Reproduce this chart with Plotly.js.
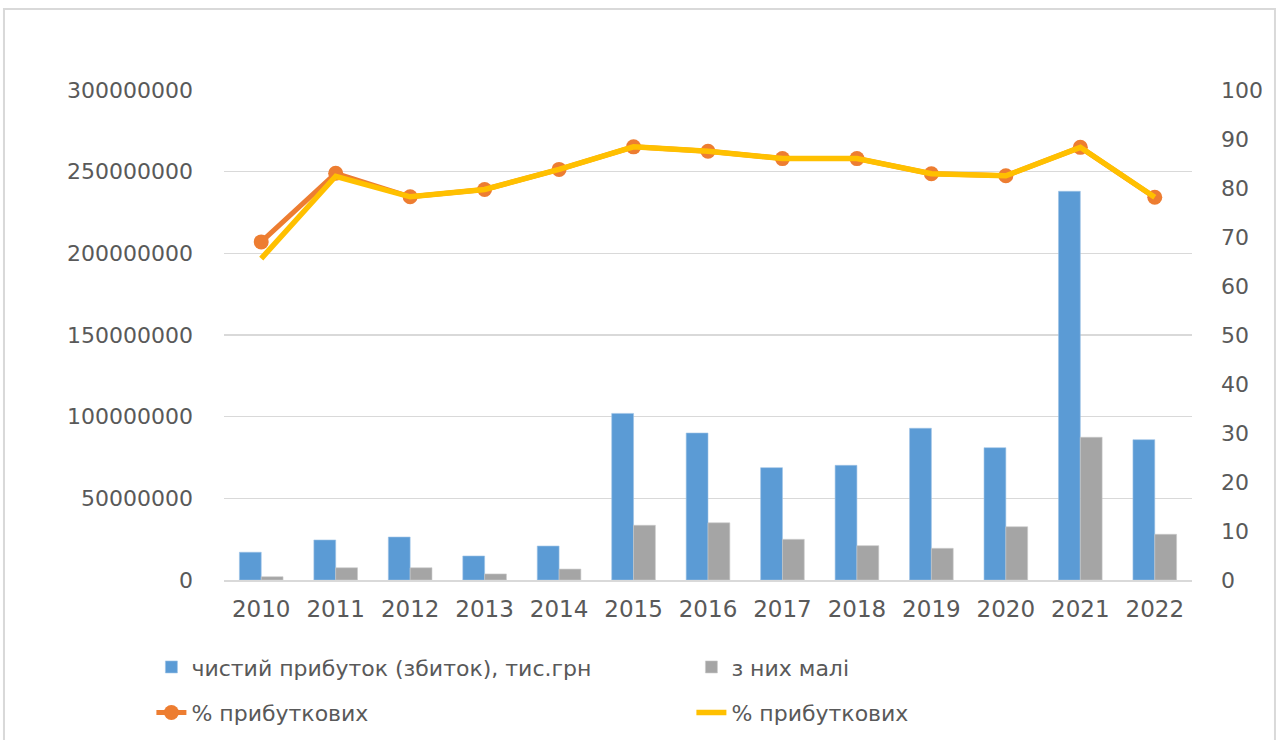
<!DOCTYPE html>
<html>
<head>
<meta charset="utf-8">
<script src="https://cdn.plot.ly/plotly-3.0.1.min.js"></script>
<style>
  html, body { margin: 0; padding: 0; background: #ffffff; }
  #chart { width: 1280px; height: 740px; }
</style>
</head>
<body>
<div id="chart"></div>
<script>
const years = ["2010","2011","2012","2013","2014","2015","2016","2017","2018","2019","2020","2021","2022"];
const netProfit = [17000000, 24500000, 26300000, 14700000, 20800000, 102000000, 90000000, 68800000, 70200000, 92900000, 81000000, 238000000, 85900000];
const smallEnterprises = [2000000, 7500000, 7500000, 3700000, 6700000, 33500000, 35000000, 24900000, 21000000, 19400000, 32600000, 87400000, 28000000];
const pctProfitableA = [69.0, 83.0, 78.2, 79.7, 83.8, 88.4, 87.5, 86.0, 86.0, 82.9, 82.5, 88.3, 78.1];
const pctProfitableB = [65.6, 82.4, 78.2, 79.7, 83.8, 88.4, 87.5, 86.0, 86.0, 82.9, 82.5, 88.3, 78.1];
const seriesNames = ["чистий прибуток (збиток), тис.грн", "з них малі", "% прибуткових", "% прибуткових"];
const leftTicks = [0, 50000000, 100000000, 150000000, 200000000, 250000000, 300000000];
const rightTicks = [0, 10, 20, 30, 40, 50, 60, 70, 80, 90, 100];

const FONT = "DejaVu Sans, Verdana, sans-serif";
const TXT = "#595959";
const GRID = "#D9D9D9";

const traces = [
  { type: "bar", x: years, y: netProfit, name: seriesNames[0], legend: "legend",
    marker: { color: "#5B9BD5", line: { color: "#9DC3E6", width: 0.6 } }, yaxis: "y" },
  { type: "bar", x: years, y: smallEnterprises, name: seriesNames[1], legend: "legend",
    marker: { color: "#A5A5A5", line: { color: "#C9C9C9", width: 0.6 } }, yaxis: "y" },
  { type: "scatter", mode: "lines+markers", x: years, y: pctProfitableA, name: seriesNames[2], legend: "legend2",
    line: { color: "#ED7D31", width: 5 }, marker: { color: "#ED7D31", size: 15 }, yaxis: "y2" },
  { type: "scatter", mode: "lines", x: years, y: pctProfitableB, name: seriesNames[3], legend: "legend2",
    line: { color: "#FFC000", width: 5.5 }, yaxis: "y2" }
];

const layout = {
  width: 1280, height: 740,
  paper_bgcolor: "#ffffff", plot_bgcolor: "#ffffff",
  margin: { l: 224, r: 88, t: 90, b: 160, autoexpand: false },
  barmode: "group", bargap: 0.414, bargroupgap: 0,
  showlegend: true,
  font: { family: FONT, color: TXT, size: 22 },
  xaxis: {
    type: "category", range: [-0.5, years.length - 0.5], autorange: false,
    showgrid: false, showline: true, linecolor: GRID, linewidth: 1.5,
    ticks: "", tickfont: { family: FONT, size: 23, color: TXT }, ticklabelstandoff: 8,
    fixedrange: true
  },
  yaxis: {
    range: [0, 300000000], tickvals: leftTicks, ticktext: leftTicks.map(String),
    showgrid: true, gridcolor: GRID, gridwidth: 1.5, zeroline: false, showline: false,
    ticks: "", tickfont: { family: FONT, size: 22, color: TXT }, ticklabelstandoff: 30,
    fixedrange: true
  },
  yaxis2: {
    range: [0, 100], tickvals: rightTicks, overlaying: "y", side: "right",
    showgrid: false, zeroline: false, showline: false,
    ticks: "", tickfont: { family: FONT, size: 22, color: TXT }, ticklabelstandoff: 28,
    fixedrange: true
  },
  legend: {
    orientation: "h", x: -0.075, xanchor: "left", y: -0.135, yanchor: "top",
    font: { family: FONT, size: 22, color: TXT }, entrywidth: 495, entrywidthmode: "pixels",
    bgcolor: "rgba(0,0,0,0)", traceorder: "normal"
  },
  legend2: {
    orientation: "h", x: -0.075, xanchor: "left", y: -0.228, yanchor: "top",
    font: { family: FONT, size: 22, color: TXT }, entrywidth: 495, entrywidthmode: "pixels",
    bgcolor: "rgba(0,0,0,0)", traceorder: "normal"
  },
  shapes: [
    { type: "rect", xref: "paper", yref: "paper", x0: -0.2273, x1: 1.0857, y0: -0.36, y1: 1.1653,
      line: { color: GRID, width: 2 }, fillcolor: "rgba(0,0,0,0)", layer: "below" }
  ]
};

Plotly.newPlot("chart", traces, layout, { displayModeBar: false, staticPlot: true });
</script>
</body>
</html>
